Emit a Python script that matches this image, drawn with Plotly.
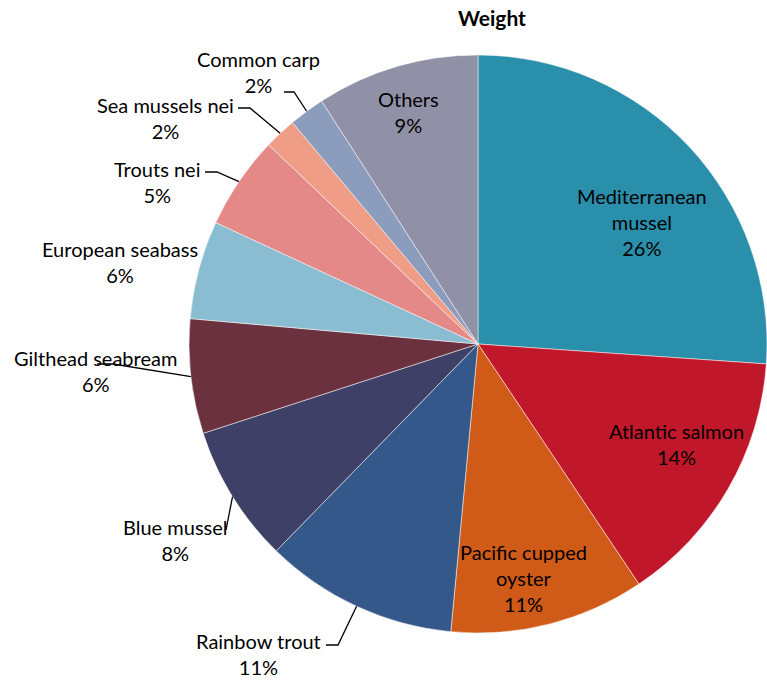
import math
import plotly.graph_objects as go

species = ["Mediterranean mussel", "Atlantic salmon", "Pacific cupped oyster", "Rainbow trout",
           "Blue mussel", "Gilthead seabream", "European seabass", "Trouts nei",
           "Sea mussels nei", "Common carp", "Others"]
display_names = ["Mediterranean<br>mussel", "Atlantic salmon", "Pacific cupped<br>oyster", "Rainbow trout",
                 "Blue mussel", "Gilthead seabream", "European seabass", "Trouts nei",
                 "Sea mussels nei", "Common carp", "Others"]
weight_share = [26.1, 14.5, 10.9, 10.8, 7.7, 6.4, 5.5, 5.2, 1.8, 2.0, 9.1]
colors = ["#2A8FAB", "#C0182A", "#D05A17", "#34588A", "#3F4068", "#6C313E",
          "#8ABDD2", "#E48888", "#EF9D86", "#8C9CBC", "#9090A6"]

# label block centres (screen pixels)
label_px = {
    "Mediterranean mussel": (642, 222),
    "Atlantic salmon": (676, 444),
    "Pacific cupped oyster": (523, 578),
    "Others": (408, 112),
    "Rainbow trout": (258, 654),
    "Blue mussel": (175, 540),
    "Gilthead seabream": (95, 371),
    "European seabass": (120, 262),
    "Trouts nei": (157, 182),
    "Sea mussels nei": (165, 118),
    "Common carp": (258, 72),
}
# leader line start point and elbow x (screen pixels)
leader_px = {
    "Common carp": (284, 92, 294),
    "Sea mussels nei": (238, 108, 250),
    "Trouts nei": (205, 172, 217),
    "Gilthead seabream": (97, 364, 113),
    "Blue mussel": (226, 530, 226),
    "Rainbow trout": (326, 645, 338),
}

W, H = 767, 681
FONT = "Lato, 'Open Sans', sans-serif"
FS = 20

# pie on screen: centre and radius
pcx, pcy, pr = 478, 344, 289


def px2paper(sx, sy):
    return sx / W, 1 - sy / H


dom_x = [(pcx - pr) / W, min(1.0, (pcx + pr) / W)]
dom_y = [1 - (pcy + pr) / H, 1 - (pcy - pr) / H]

total = sum(weight_share)
pct = [round(v / total * 100) for v in weight_share]

fig = go.Figure(go.Pie(
    labels=species, values=weight_share, textinfo="none",
    sort=False, direction="clockwise", rotation=0,
    marker=dict(colors=colors, line=dict(color="white", width=0.5)),
    domain=dict(x=dom_x, y=dom_y), hoverinfo="label+percent", showlegend=False,
))

annotations = []
shapes = []
cum = 0.0
for name, disp, v, p in zip(species, display_names, weight_share, pct):
    mid = (cum + v / 2) / total * 2 * math.pi
    cum += v
    lx, ly = label_px[name]
    x, y = px2paper(lx, ly)
    annotations.append(dict(
        x=x, y=y, xref="paper", yref="paper", showarrow=False,
        xanchor="center", yanchor="middle", align="center",
        text=f"{disp}<br>{p}%", font=dict(family=FONT, size=FS, color="black"),
    ))
    if name in leader_px:
        sx, sy, ex = leader_px[name]
        tx = pcx + pr * math.sin(mid)
        ty = pcy - pr * math.cos(mid)
        a = px2paper(sx, sy)
        b = px2paper(ex, sy)
        c = px2paper(tx, ty)
        shapes.append(dict(
            type="path", xref="paper", yref="paper",
            path=f"M {a[0]},{a[1]} L {b[0]},{b[1]} L {c[0]},{c[1]}",
            line=dict(color="black", width=1.3),
        ))

tx_, ty_ = px2paper(492, 18)
annotations.append(dict(
    x=tx_, y=ty_, xref="paper", yref="paper", showarrow=False,
    xanchor="center", yanchor="middle",
    text="<b>Weight</b>", font=dict(family=FONT, size=21, color="black"),
))

fig.update_layout(
    width=W, height=H, margin=dict(l=0, r=0, t=0, b=0),
    paper_bgcolor="white", plot_bgcolor="white",
    annotations=annotations, shapes=shapes,
)

fig.write_html("out.html", config={"displayModeBar": False},
               post_script="document.body.style.margin='0';")
